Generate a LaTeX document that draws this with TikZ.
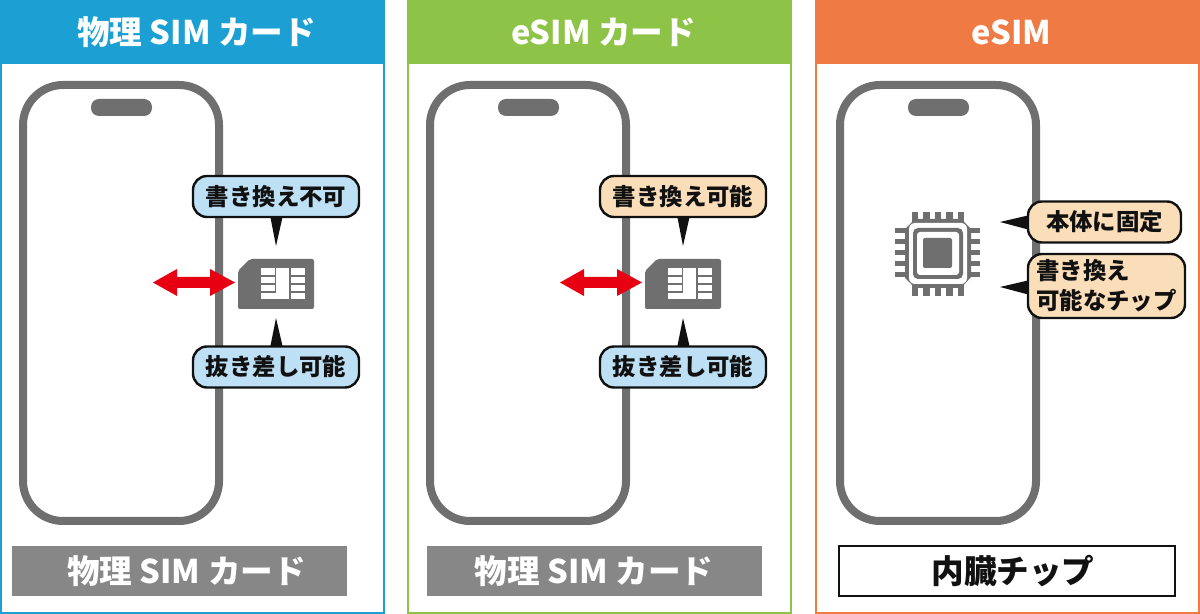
\documentclass[tikz,border=0pt]{standalone}
\usepackage{fontspec}
\setmainfont{Noto Sans CJK JP}
\usetikzlibrary{positioning}
\definecolor{cblue}{HTML}{1CA0D3}
\definecolor{cgreen}{HTML}{8DC347}
\definecolor{corange}{HTML}{F07A43}
\definecolor{phonegray}{HTML}{6F6F6F}
\definecolor{bargray}{HTML}{878787}
\definecolor{lblue}{HTML}{BDE0F5}
\definecolor{lpeach}{HTML}{FADDB9}
\definecolor{arrowred}{HTML}{E60012}
\definecolor{ink}{HTML}{111111}
\tikzset{
  x=0.5pt,y=-0.5pt,
  headtext/.style={text=white,font=\fontsize{16.3}{18}\selectfont\bfseries,inner sep=0pt},
  callout/.style={draw=ink,line width=1.2pt,rounded corners=7pt,inner sep=0pt,
    minimum height=20.5pt,text=ink,font=\fontsize{11.7}{15}\selectfont\bfseries},
  barbox/.style={minimum width=167.5pt,minimum height=25pt,inner sep=0pt,font=\fontsize{16.3}{18}\selectfont\bfseries},
  phonebody/.style={draw=phonegray,line width=4pt,rounded corners=20pt},
  pointer/.style={fill=ink,draw=none},
  simfill/.style={fill=phonegray,draw=none},
  chipline/.style={draw=phonegray,line width=0.7pt},
}
\newcommand{\drawpanel}[4]{% name, x offset, colour, title
  \draw[#3,line width=1pt] (#2+1,1) rectangle (#2+384,613);
  \fill[#3] (#2,0) rectangle (#2+385,64);
  \node[headtext] (#1title) at (#2+196.5,32) {#4};
}
\newcommand{\drawphone}[1]{% x offset
  \draw[phonebody] (#1+23,85) rectangle (#1+219,521);
  \fill[phonegray,rounded corners=4pt] (#1+91,99) rectangle (#1+152,116);
}
\newcommand{\drawsim}[1]{% x offset
  \fill[simfill,rounded corners=1pt] (#1+250,259) -- (#1+314,259) -- (#1+314,309) -- (#1+238,309) -- (#1+238,271) -- cycle;
  \fill[white] (#1+261,268) rectangle (#1+305,299);
  \foreach \yy in {276,284,292}{
    \draw[chipline] (#1+261,\yy) -- (#1+275.5,\yy);
    \draw[chipline] (#1+290,\yy) -- (#1+305,\yy);
  }
  \draw[chipline] (#1+275.5,268) -- (#1+275.5,292);
  \draw[chipline] (#1+290,268) -- (#1+290,299);
  \fill[arrowred] (#1+153,282.5) -- (#1+177,269) -- (#1+177,277) -- (#1+210,277) -- (#1+210,269) -- (#1+235,282.5) -- (#1+210,296) -- (#1+210,288) -- (#1+177,288) -- (#1+177,296) -- cycle;
  \fill[pointer] (#1+270,215) -- (#1+283,215) -- (#1+276,246) -- cycle;
  \fill[pointer] (#1+270,348) -- (#1+283,348) -- (#1+276,318) -- cycle;
}
\begin{document}
\begin{tikzpicture}
\useasboundingbox (0,0) rectangle (1200,614);
\fill[white] (0,0) rectangle (1200,614);
% panel 1
\drawpanel{a}{0}{cblue}{物理 SIM カード}
\drawphone{0}
\drawsim{0}
\node[callout,fill=lblue,minimum width=83pt] (a1) at (276,196.5) {書き換え不可};
\node[callout,fill=lblue,minimum width=83pt] (a2) at (276,367) {抜き差し可能};
\node[barbox,fill=bargray,text=white] (abar) at (179.5,571) {\hspace*{7pt}物理 SIM カード};
% panel 2
\drawpanel{b}{407}{cgreen}{eSIM カード}
\drawphone{407}
\drawsim{407}
\node[callout,fill=lpeach,minimum width=83pt] (b1) at (683,196.5) {書き換え可能};
\node[callout,fill=lblue,minimum width=83pt] (b2) at (683,367) {抜き差し可能};
\node[barbox,fill=bargray,text=white] (bbar) at (594,571) {物理 SIM カード};
% panel 3
\drawpanel{c}{815}{corange}{eSIM}
\drawphone{817}
% chip icon
\foreach \d in {-23,-11.5,0,11.5,23}{
  \fill[phonegray] (938+\d-3.25,212) rectangle (938+\d+3.25,296);
}
\foreach \d in {-22,-11,0,11,22}{
  \fill[phonegray] (895,253+\d-2.5) rectangle (980,253+\d+2.5);
}
\fill[phonegray] (915,219) -- (961,219) -- (971,229) -- (971,277) -- (961,288) -- (915,288) -- (905,278) -- (905,229) -- cycle;
\fill[white,rounded corners=3pt] (909,223) rectangle (967,284);
\fill[phonegray,rounded corners=2.5pt] (913,228) rectangle (963,279);
\fill[white,rounded corners=1.5pt] (917,232) rectangle (959,275);
\fill[phonegray,rounded corners=1pt] (923,238) rectangle (952,268);
\fill[pointer] (1030,215) -- (1030,230) -- (1000,222) -- cycle;
\fill[pointer] (1030,280) -- (1030,295) -- (1000,287) -- cycle;
\node[callout,fill=lpeach,minimum width=76.5pt] (c1) at (1104.5,222) {本体に固定};
\node[callout,fill=lpeach,minimum width=78.5pt,minimum height=32pt,align=left] (c2) at (1106.5,286) {書き換え\\可能なチップ};
\node[barbox,draw=ink,line width=1pt,fill=white,text=ink,minimum width=168pt] (cbar) at (1006.5,571) {\hspace*{6.5pt}内臓チップ};
\end{tikzpicture}
\end{document}
